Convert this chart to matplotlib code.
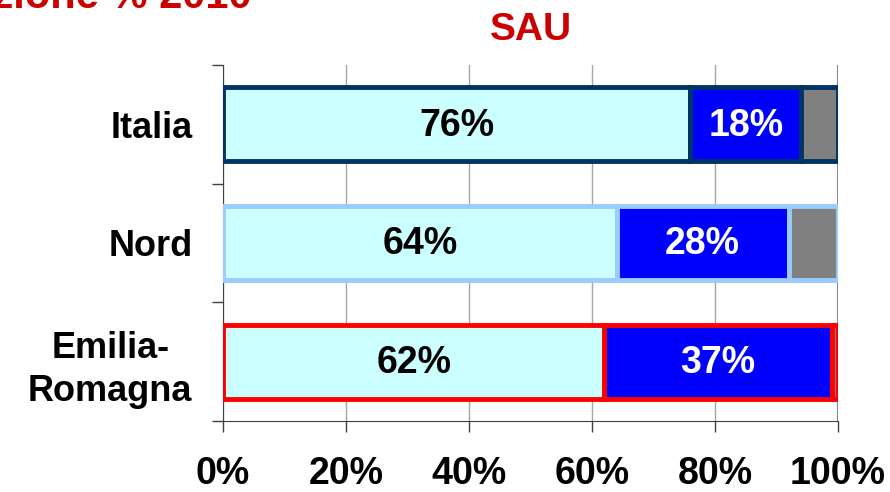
import matplotlib
matplotlib.use("Agg")
import matplotlib.pyplot as plt
import numpy as np

categories = ["Italia", "Nord", "Emilia-\nRomagna"]
seg1 = [76, 64, 62]
seg2 = [18, 28, 37]
seg3 = [6, 8, 1]
seg_colors = ["#CCFFFF", "#0000FF", "#808080"]
edge_colors = ["#003366", "#99CCFF", "#FF0000"]
label_colors = ["black", "white"]
xticks = [0, 20, 40, 60, 80, 100]
xticklabels = ["0%", "20%", "40%", "60%", "80%", "100%"]

plt.rcParams['font.family'] = ['Liberation Sans', 'DejaVu Sans']

fig = plt.figure(figsize=(8.9, 4.92), dpi=100)
ax = fig.add_axes([223/890, 1-421/492, (838-223)/890, (421-65)/492])

y = np.arange(len(categories))[::-1]
series = [seg1, seg2, seg3]
left = np.zeros(len(categories))
for si, vals in enumerate(series):
    vals = np.array(vals, dtype=float)
    for i in range(len(categories)):
        ax.barh(y[i], vals[i], left=left[i], height=0.625, color=seg_colors[si],
                edgecolor=edge_colors[i], linewidth=3.5, zorder=3)
        if si < 2:
            ax.text(left[i] + vals[i]/2, y[i] - 0.01, f"{int(vals[i])}%", ha='center', va='center',
                    fontsize=27, fontweight='bold', color=label_colors[si], zorder=4)
    left += vals

ax.set_xlim(0, 100)
ax.set_ylim(-0.5, 2.5)
ax.set_xticks(xticks)
ax.set_xticklabels(xticklabels, fontsize=27, fontweight='bold')
ax.set_yticks(y)
ax.set_yticklabels(categories, fontsize=26, fontweight='bold', linespacing=1.3,
                   multialignment='center')
ax.set_yticks([-0.5, 0.5, 1.5, 2.5], minor=True)
ax.tick_params(axis='y', which='major', length=0, pad=22)
ax.tick_params(axis='y', which='minor', length=8, color='#404040', width=1)
ax.tick_params(axis='x', length=8, color='#404040', pad=17, width=1)
ax.grid(axis='x', color='#A6A6A6', linewidth=1, zorder=0)
for s in ['top', 'right']:
    ax.spines[s].set_visible(False)
ax.spines['left'].set_color('#404040')
ax.spines['bottom'].set_color('#404040')
ax.axvline(100, color='#808080', linewidth=1.5, zorder=1)

fig.text(531/890, 1-30/492, "SAU", ha='center', va='center', fontsize=28,
         fontweight='bold', color='#CC0000')
fig.text(252/890, 1-8/492, "Distribuzione % 2010", ha='right', va='baseline', fontsize=30,
         fontweight='bold', color='#CC0000')

fig.savefig("out.png", dpi=100)
